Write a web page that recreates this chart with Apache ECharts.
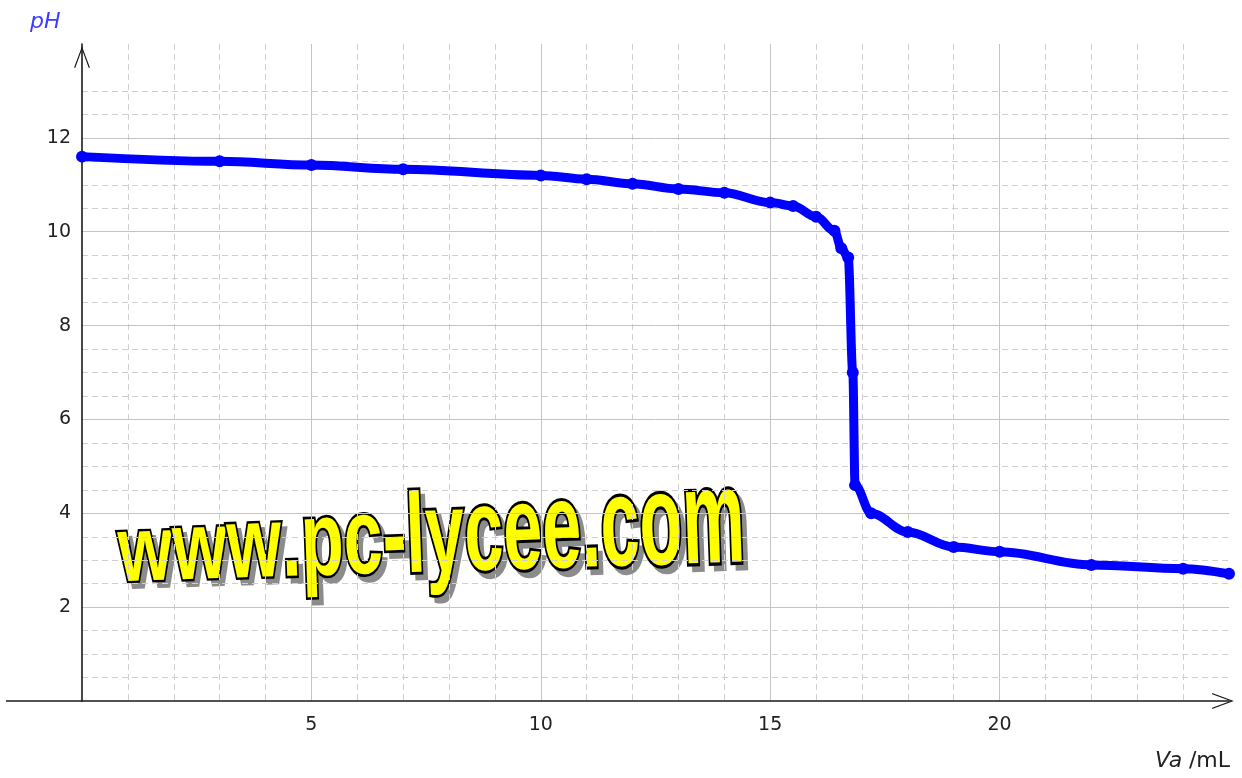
<!DOCTYPE html>
<html>
<head>
<meta charset="utf-8">
<script src="https://cdn.jsdelivr.net/npm/echarts@6/dist/echarts.min.js"></script>
<style>
html,body{margin:0;padding:0;background:#fff;}
#chart{width:1242px;height:778px;background:#fff;}
</style>
</head>
<body>
<div id="chart"></div>
<script>
// Volume of acid added (mL)
var volumes = [0, 3, 5, 7, 10, 11, 12, 13, 14, 15, 15.5, 16, 16.4, 16.55, 16.7, 16.8, 16.85, 17.2, 18, 19, 20, 22, 24, 25];
// Measured pH
var phValues = [11.6, 11.5, 11.42, 11.33, 11.2, 11.12, 11.02, 10.91, 10.83, 10.62, 10.55, 10.32, 10.02, 9.65, 9.45, 7.0, 4.6, 4.0, 3.6, 3.28, 3.18, 2.9, 2.82, 2.71];
var xTickLabels = ['5', '10', '15', '20'];
var yTickLabels = ['2', '4', '6', '8', '10', '12'];
var yAxisTitle = 'pH';
var xAxisTitleVar = 'Va';
var xAxisTitleUnit = '/mL';
var watermark = 'www.pc-lycee.com';

var points = volumes.map(function (v, i) { return [v, phValues[i]]; });
var arrowPath = 'path://M8.5,0 L17,23 L15.6,23 L8.5,3.5 L1.4,23 L0,23 Z';
var labelFont = '"DejaVu Sans", sans-serif';

// dashed minor horizontal lines every 0.5 (skip majors and the top edge)
var yMinorColors = [];
for (var i = 0; i <= 28; i++) {
  var v = i * 0.5;
  yMinorColors.push((i % 4 === 0 || v > 13.25) ? 'rgba(0,0,0,0)' : '#cfcfcf');
}

var chart = echarts.init(document.getElementById('chart'), null, {renderer: 'canvas'});
var option = {
  animation: false,
  backgroundColor: 'transparent',
  grid: {left: 82, right: 13, top: 44, bottom: 77, containLabel: false},
  xAxis: {
    type: 'value', min: 0, max: 25, interval: 5,
    axisLine: {show: true, symbol: ['none', arrowPath], symbolSize: [16, 22], symbolOffset: [0, -6],
      lineStyle: {color: '#1a1a1a', width: 1.6}},
    axisTick: {show: false},
    axisLabel: {show: true, margin: 15, color: '#222', fontSize: 19, fontFamily: labelFont,
      formatter: function (v) { var s = String(v); return xTickLabels.indexOf(s) >= 0 ? s : ''; }},
    splitLine: {show: true, showMinLine: false, showMaxLine: false, lineStyle: {color: '#c4c4c4', width: 1}},
    minorTick: {show: false, splitNumber: 5},
    minorSplitLine: {show: true, lineStyle: {color: '#cfcfcf', width: 1, type: [6, 4]}}
  },
  yAxis: [{
    type: 'value', min: 0, max: 14, interval: 2,
    axisLine: {show: true, onZero: false, symbol: ['none', arrowPath], symbolSize: [16, 22], symbolOffset: [0, -13],
      lineStyle: {color: '#1a1a1a', width: 1.6}},
    axisTick: {show: false},
    axisLabel: {show: true, margin: 11, color: '#222', fontSize: 19, fontFamily: labelFont,
      formatter: function (v) { var s = String(v); return yTickLabels.indexOf(s) >= 0 ? s : ''; }},
    splitLine: {show: true, showMinLine: false, showMaxLine: false, lineStyle: {color: '#c4c4c4', width: 1}},
    z: 1
  }, {
    type: 'value', min: 0, max: 14, interval: 0.5, position: 'left',
    axisLine: {show: false}, axisTick: {show: false}, axisLabel: {show: false},
    splitLine: {show: true, lineStyle: {color: yMinorColors, width: 1, type: [6, 4]}},
    z: 0
  }],
  series: [{
    type: 'line',
    data: points,
    yAxisIndex: 0,
    clip: false,
    smooth: 0.35,
    smoothMonotone: 'x',
    symbol: 'circle',
    symbolSize: 12,
    showAllSymbol: true,
    lineStyle: {color: '#0000ff', width: 9, cap: 'round', join: 'round'},
    itemStyle: {color: '#0000ff'},
    z: 5
  }]
};
chart.setOption(option);

var origin = chart.convertToPixel({gridIndex: 0}, [0, 0]);

// Word-art style watermark with a perspective effect (letters grow to the right)
var wmFont = 'bold 70px "Liberation Sans", Arial, sans-serif';
var ctx = document.createElement('canvas').getContext('2d');
ctx.font = wmFont;
var wmLeft = 118, wmRight = 742;
var totalW = ctx.measureText(watermark).width;
var k = (wmRight - wmLeft) / totalW;
var wmEls = [];
var cursor = wmLeft;
for (var c = 0; c < watermark.length; c++) {
  var ch = watermark[c];
  var w = ctx.measureText(ch).width * k;
  var cx = cursor + w / 2;
  var t = (cx - wmLeft) / (wmRight - wmLeft);
  var cy = 556 + (524 - 556) * t;
  var sy = 1.3 + (1.95 - 1.3) * t;
  var rot = 0.035;
  wmEls.push({type: 'text', zlevel: -1, z: 1, x: cx + 5, y: cy + 6, rotation: rot, scaleX: k, scaleY: sy,
    style: {text: ch, font: wmFont, fill: '#8c8c8c', stroke: '#8c8c8c', lineWidth: 3,
      textAlign: 'center', textVerticalAlign: 'middle'}});
  wmEls.push({type: 'text', zlevel: -1, z: 2, x: cx, y: cy, rotation: rot, scaleX: k, scaleY: sy,
    style: {text: ch, font: wmFont, fill: '#ffff00', stroke: '#000000', lineWidth: 3.5,
      textAlign: 'center', textVerticalAlign: 'middle'}});
  cursor += w;
}

chart.setOption({
  graphic: [
    {type: 'line', z: 10, shape: {x1: 6, y1: origin[1], x2: origin[0], y2: origin[1]},
      style: {stroke: '#1a1a1a', lineWidth: 1.6}},
    {type: 'text', x: 30, y: 22, style: {text: yAxisTitle, font: 'italic 22px "DejaVu Sans", sans-serif',
      fill: '#3d3dff', textAlign: 'left', textVerticalAlign: 'middle'}},
    {type: 'text', x: 1230, y: 761, style: {
      text: '{v|' + xAxisTitleVar + '}  ' + '{u|' + xAxisTitleUnit + '}',
      textAlign: 'right', textVerticalAlign: 'middle',
      rich: {
        v: {fontStyle: 'italic', fontSize: 22, fontFamily: labelFont, fill: '#222'},
        u: {fontSize: 22, fontFamily: labelFont, fill: '#222'}
      }}}
  ].concat(wmEls)
});
</script>
</body>
</html>
